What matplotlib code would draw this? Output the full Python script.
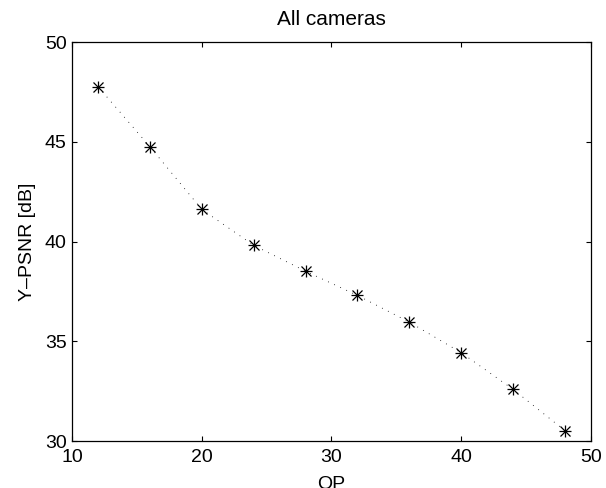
import matplotlib
matplotlib.use("Agg")
import matplotlib.pyplot as plt

# QP settings and mean luma PSNR over all cameras
qp = [12, 16, 20, 24, 28, 32, 36, 40, 44, 48]
psnr = [47.76, 44.75, 41.61, 39.81, 38.51, 37.30, 35.96, 34.43, 32.59, 30.52]

x_ticks = [10, 20, 30, 40, 50]
y_ticks = [30, 35, 40, 45, 50]

plt.rcParams["font.family"] = ["Liberation Sans", "DejaVu Sans"]

fig = plt.figure(figsize=(6.06, 4.88), dpi=100)
ax = fig.add_axes([0.119, 0.0963, 0.856, 0.8176])

# dotted line, then a MATLAB-like asterisk made of '+' and 'x'
ax.plot(qp, psnr, color="black", linewidth=0.6, linestyle=(0, (1, 7)))
ax.plot(qp, psnr, linestyle="none", marker="+", markersize=9,
        markeredgewidth=0.9, color="black")
ax.plot(qp, psnr, linestyle="none", marker="x", markersize=6.5,
        markeredgewidth=0.9, color="black")

ax.set_xlim(10, 50)
ax.set_ylim(30, 50)
ax.set_xticks(x_ticks)
ax.set_yticks(y_ticks)

ax.tick_params(direction="in", length=3.6, width=0.8, top=True, right=True,
               labelsize=14, colors="black")
ax.tick_params(axis="x", pad=6)
ax.tick_params(axis="y", pad=4)
for s in ax.spines.values():
    s.set_linewidth(0.9)

ax.set_title("All cameras", fontsize=15, pad=12)
ax.set_xlabel("QP", fontsize=14, labelpad=7)
ax.set_ylabel("Y\u2013PSNR [dB]", fontsize=14, labelpad=6)

fig.savefig("out.png", dpi=100)
